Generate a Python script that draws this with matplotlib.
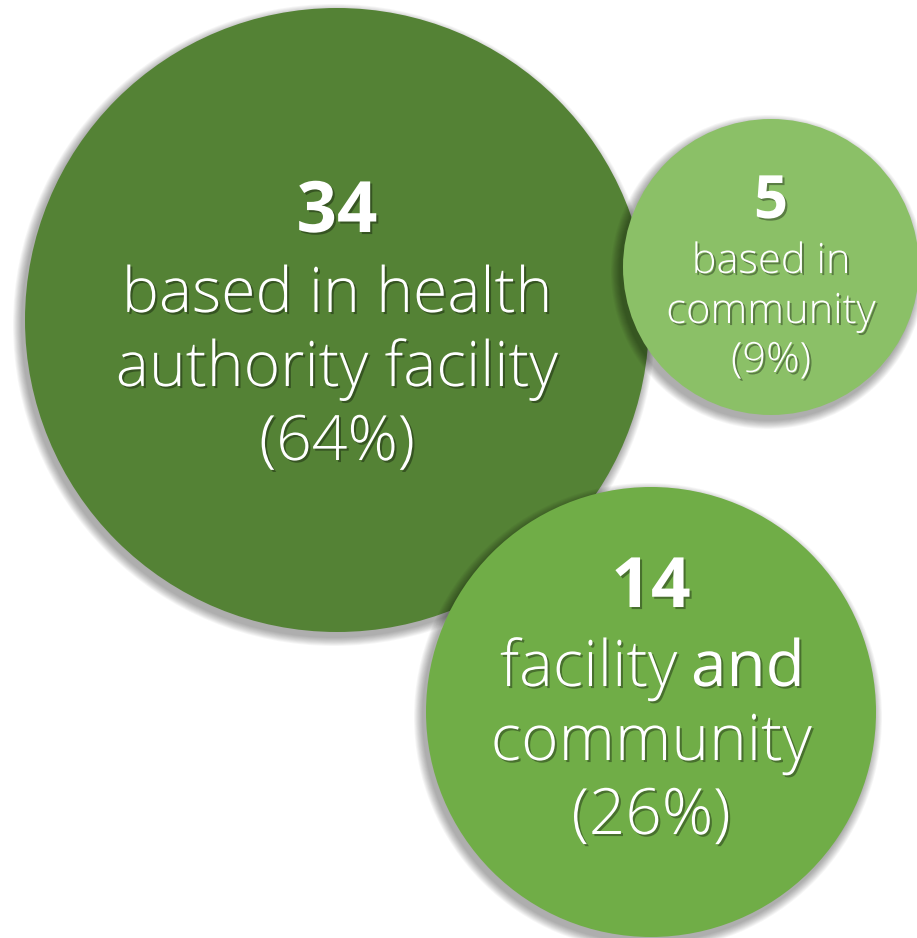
import matplotlib
matplotlib.use("Agg")
import matplotlib.pyplot as plt
from matplotlib.patches import Circle
import matplotlib.patheffects as pe

# --- Data ---
counts = [34, 5, 14]
percents = [64, 9, 26]
descriptions = [
    ["based in health", "authority facility"],
    ["based in", "community"],
    ["facility and", "community"],
]

# --- Layout (pixel coordinates, y down) ---
centers = [(337, 320), (771, 267), (651, 712)]
radii = [312, 148, 225]
colors = ["#548235", "#8BC067", "#70AD47"]
num_size = [51, 43, 50]          # points
txt_size = [45, 30, 46]
num_base = [232, 218, 607]       # baseline y of the count
line_base = [[312, 386, 460], [273, 323, 372], [686, 760, 834]]

W, H = 917, 938
fig = plt.figure(figsize=(W / 100, H / 100), dpi=100)
ax = fig.add_axes([0, 0, 1, 1])
ax.set_xlim(0, W)
ax.set_ylim(H, 0)
ax.set_aspect("equal")
ax.axis("off")

FAM = ["Open Sans", "DejaVu Sans"]
shadow = [pe.SimplePatchShadow(offset=(1.5, -1.5), shadow_rgbFace="black", alpha=0.35),
          pe.Normal()]

for k in range(3):
    cx, cy = centers[k]
    r = radii[k]
    # soft drop shadow: stack of faint circles
    n = 10
    for i in range(n):
        rr = r + 9 * (1 - i / n)
        ax.add_patch(Circle((cx - 3, cy + 5), rr, color="black", alpha=0.035,
                            lw=0, zorder=10 * k))
    ax.add_patch(Circle((cx, cy), r, color=colors[k], lw=0, zorder=10 * k + 1))

    ax.text(cx, num_base[k], str(counts[k]), ha="center", va="baseline",
            fontsize=num_size[k], fontweight="bold", family=FAM, color="white",
            path_effects=shadow, zorder=10 * k + 2)
    lines = descriptions[k] + [f"({percents[k]}%)"]
    for j, line in enumerate(lines):
        if k == 2 and j == 0:
            # "facility" light, "and" regular
            ax.text(cx + 26, line_base[k][j], "facility", ha="right", va="baseline",
                    fontsize=txt_size[k], fontweight="light", family=FAM, color="white",
                    path_effects=shadow, zorder=10 * k + 2)
            ax.text(cx + 40, line_base[k][j], "and", ha="left", va="baseline",
                    fontsize=txt_size[k], fontweight="normal", family=FAM, color="white",
                    path_effects=shadow, zorder=10 * k + 2)
            continue
        ax.text(cx, line_base[k][j], line, ha="center", va="baseline",
                fontsize=txt_size[k], fontweight="light", family=FAM, color="white",
                path_effects=shadow, zorder=10 * k + 2)

fig.savefig("out.png", dpi=100, facecolor="white")
